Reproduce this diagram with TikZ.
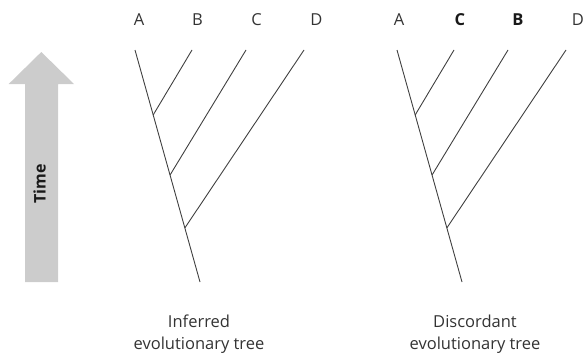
\documentclass[tikz,border=0pt]{standalone}
\usepackage{fontspec}
\setmainfont{Open Sans}
\usetikzlibrary{calc}

\begin{document}
\begin{tikzpicture}[x=1pt, y=-1pt]
\tikzset{
  branch/.style={
    draw=black!75,
    line width=0.9pt
  },
  taxon/.style={
    text=black!80,
    font=\fontsize{16.5}{18}\selectfont
  },
  chosen/.style={
    text=black!90,
    font=\fontsize{16.5}{18}\selectfont\bfseries
  },
  caption/.style={
    text=black!80,
    align=center,
    font=\fontsize{16.5}{22}\selectfont
  },
  timearrow/.style={
    fill=black!20,
    draw=none
  }
}

\useasboundingbox (0,0) rectangle (584,356);

% Time arrow
\path[timearrow] (25,282) -- (25,84) -- (8.7,84) -- (41.3,52) -- (74,84)
  -- (58,84) -- (58,282) -- cycle;
\node (time) [rotate=90, text=black!90, font=\fontsize{16}{18}\selectfont\bfseries]
  at (39.5,184) {Time};

% Inferred tree
\begin{scope}
\coordinate (tipA1) at (135,50);
\coordinate (tipB1) at (192,50);
\coordinate (tipC1) at (246,50);
\coordinate (tipD1) at (304,50);
\coordinate (root1) at (200,282);
\coordinate (ab1) at ($(tipA1)!0.28!(root1)$);
\coordinate (abc1) at ($(tipA1)!0.539!(root1)$);
\coordinate (abcd1) at ($(tipA1)!0.767!(root1)$);

\node (labA1) [taxon] at (139,20) {A};
\node (labB1) [taxon] at (197.5,20) {B};
\node (labC1) [taxon] at (256.5,20) {C};
\node (labD1) [taxon] at (316.5,20) {D};

\draw[branch] (tipA1) -- (root1);
\draw[branch] (tipB1) -- (ab1);
\draw[branch] (tipC1) -- (abc1);
\draw[branch] (tipD1) -- (abcd1);

\node (cap1) [caption] at (199,334) {Inferred\\evolutionary tree};
\end{scope}

% Discordant tree
\begin{scope}[xshift=262pt]
\coordinate (tipA2) at (135,50);
\coordinate (tipC2) at (192,50);
\coordinate (tipB2) at (246,50);
\coordinate (tipD2) at (304,50);
\coordinate (root2) at (200,282);
\coordinate (ac2) at ($(tipA2)!0.28!(root2)$);
\coordinate (acb2) at ($(tipA2)!0.539!(root2)$);
\coordinate (acbd2) at ($(tipA2)!0.767!(root2)$);

\node (labA2) [taxon] at (137,20) {A};
\node (labC2) [chosen] at (198,20) {C};
\node (labB2) [chosen] at (256,20) {B};
\node (labD2) [taxon] at (316,20) {D};

\draw[branch] (tipA2) -- (root2);
\draw[branch] (tipC2) -- (ac2);
\draw[branch] (tipB2) -- (acb2);
\draw[branch] (tipD2) -- (acbd2);

\node (cap2) [caption] at (213,334) {Discordant\\evolutionary tree};
\end{scope}

\end{tikzpicture}
\end{document}
